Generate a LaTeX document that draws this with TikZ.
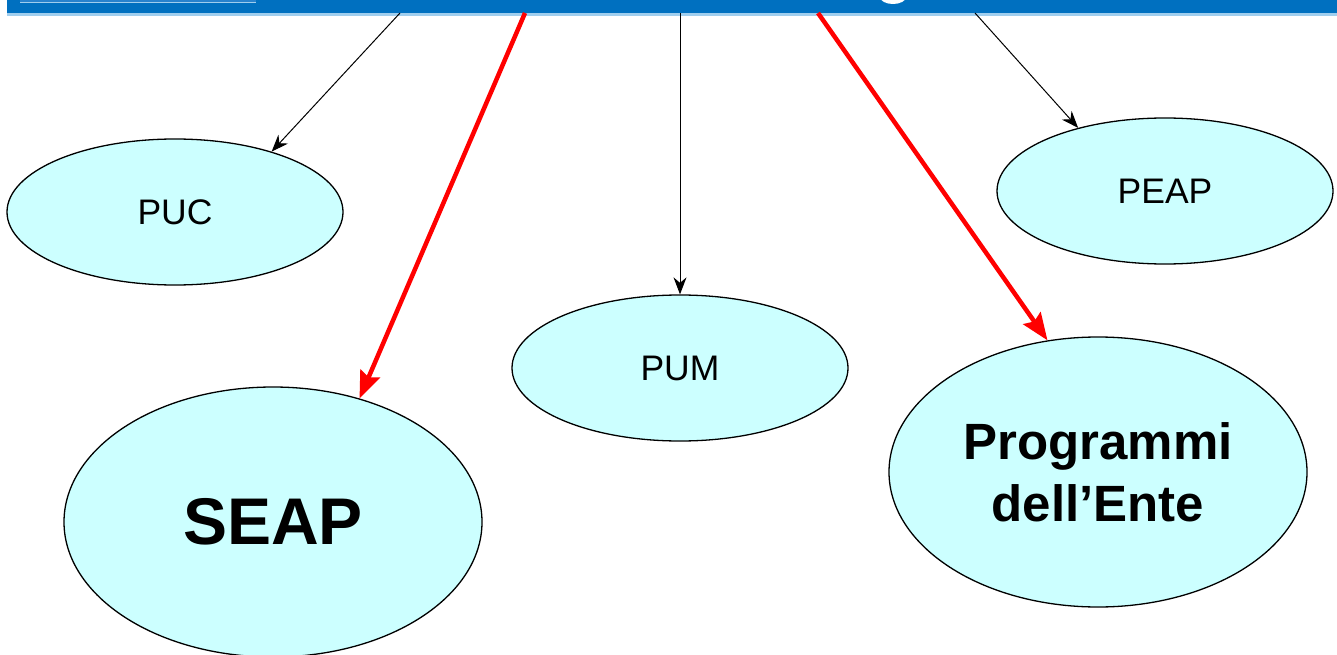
\documentclass[tikz,border=0pt]{standalone}
\usepackage{fontspec}
\setmainfont{Liberation Sans}
\usetikzlibrary{shapes.geometric,arrows.meta}
\definecolor{barblue}{RGB}{0,112,192}
\definecolor{barlight}{RGB}{160,206,238}
\definecolor{boxblue}{RGB}{40,130,205}
\definecolor{ellfill}{RGB}{204,255,255}
\definecolor{arrred}{RGB}{255,0,0}
\tikzset{
  oval/.style={ellipse, draw=black, line width=1.3pt, fill=ellfill, inner sep=0pt, align=center},
  smalloval/.style={oval, minimum width=336pt, minimum height=146pt, font=\fontsize{35.5}{40}\selectfont},
  bigoval/.style={oval, minimum width=418pt, minimum height=270pt},
  blackarrow/.style={draw=black, line width=1pt, -{Stealth[length=17pt,width=13pt]}},
  redarrow/.style={draw=arrred, line width=4.5pt, -{Stealth[length=27pt,width=21pt,inset=4pt]}},
}
\begin{document}
\begin{tikzpicture}[x=1pt,y=-1pt]
\useasboundingbox (0,0) rectangle (1337,655);
\clip (0,0) rectangle (1337,655);
% header bar
\fill[barblue] (7,-5) rectangle (1337,13);
\fill[barlight] (7,13) rectangle (1337,16);
\fill[boxblue] (20,-5) rectangle (256,2);
\draw[barlight, line width=1pt] (20,2.5) -- (256,2.5);
\fill[white] (893,-3) ellipse [x radius=13pt, y radius=7pt];
% source points on the bar
\coordinate (s1) at (400,13);
\coordinate (s2) at (525,13);
\coordinate (s3) at (680,13);
\coordinate (s4) at (818,13);
\coordinate (s5) at (975,13);
% nodes
\node[smalloval] (puc) at (175,212) {PUC};
\node[smalloval] (peap) at (1165,191) {PEAP};
\node[smalloval] (pum) at (680,368) {PUM};
\node[bigoval, font=\bfseries\fontsize{66}{70}\selectfont] (seap) at (273,522) {SEAP};
\node[bigoval, font=\bfseries\fontsize{51}{62}\selectfont] (prog) at (1098,472) {Programmi\\ dell’Ente};
% connectors
\draw[blackarrow] (s1) -- (puc.32);
\draw[redarrow] (s2) -- (seap.55.6);
\draw[blackarrow] (s3) -- (pum.90);
\draw[redarrow] (s4) -- (prog.111.7);
\draw[blackarrow] (s5) -- (peap.144);
\end{tikzpicture}
\end{document}
